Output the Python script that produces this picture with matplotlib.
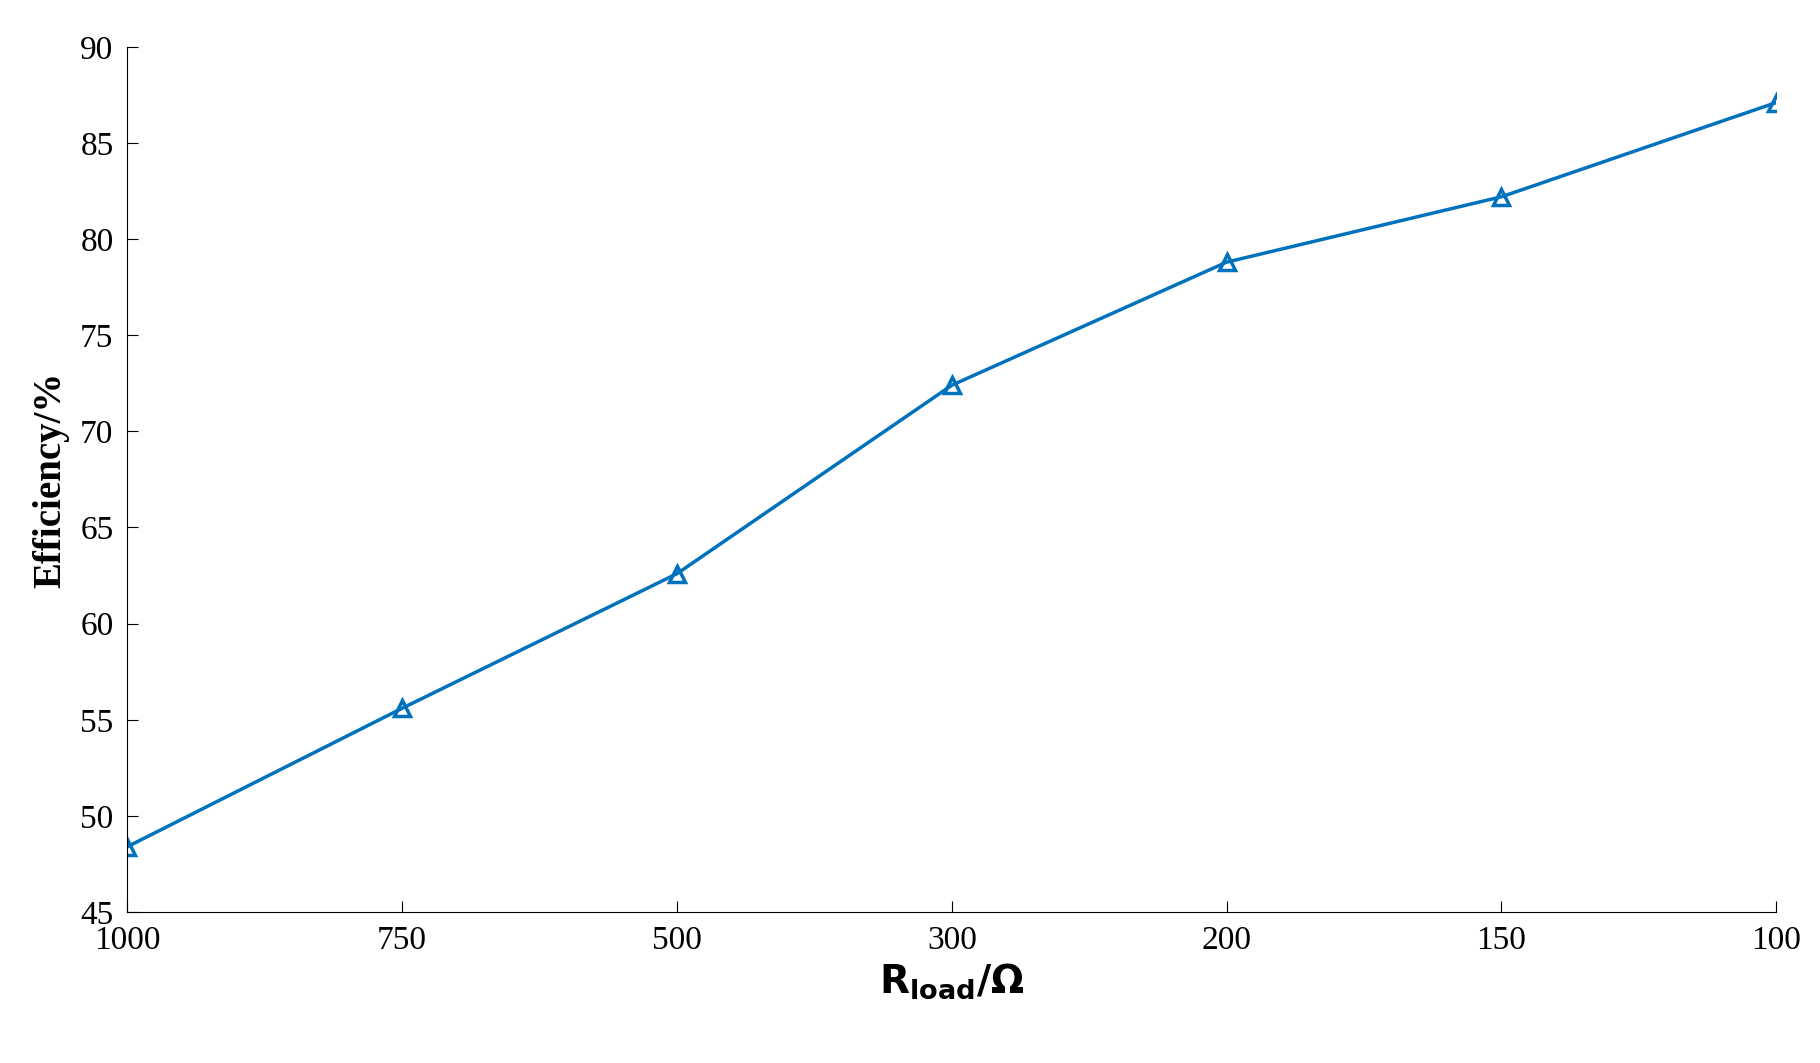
import matplotlib.pyplot as plt

plt.rcParams['font.family'] = ['Liberation Serif', 'DejaVu Serif']

# Load resistance labels (categorical, equally spaced)
r_load = ['1000', '750', '500', '300', '200', '150', '100']
efficiency = [48.4, 55.6, 62.6, 72.4, 78.8, 82.2, 87.1]

fig = plt.figure(figsize=(18.2, 10.63), dpi=100)
ax = fig.add_axes([0.070, 0.142, 0.906, 0.814])

x = range(len(r_load))
ax.plot(x, efficiency, color='#0072BD', linewidth=2.5, marker='^',
        markersize=11, markerfacecolor='none', markeredgewidth=2.5)

ax.set_xlim(0, len(r_load) - 1)
ax.set_ylim(45, 90)
ax.set_xticks(list(x))
ax.set_xticklabels(r_load)
ax.set_yticks(range(45, 91, 5))
ax.tick_params(direction='in', labelsize=24, length=8, pad=10)
for s in ['top', 'right']:
    ax.spines[s].set_visible(False)

ax.set_xlabel(r'$\mathbf{R_{load}/\Omega}$', fontsize=28, labelpad=4)
ax.set_ylabel('Efficiency/%', fontsize=28, fontweight='bold', labelpad=8)

fig.savefig('out.png', dpi=100)
